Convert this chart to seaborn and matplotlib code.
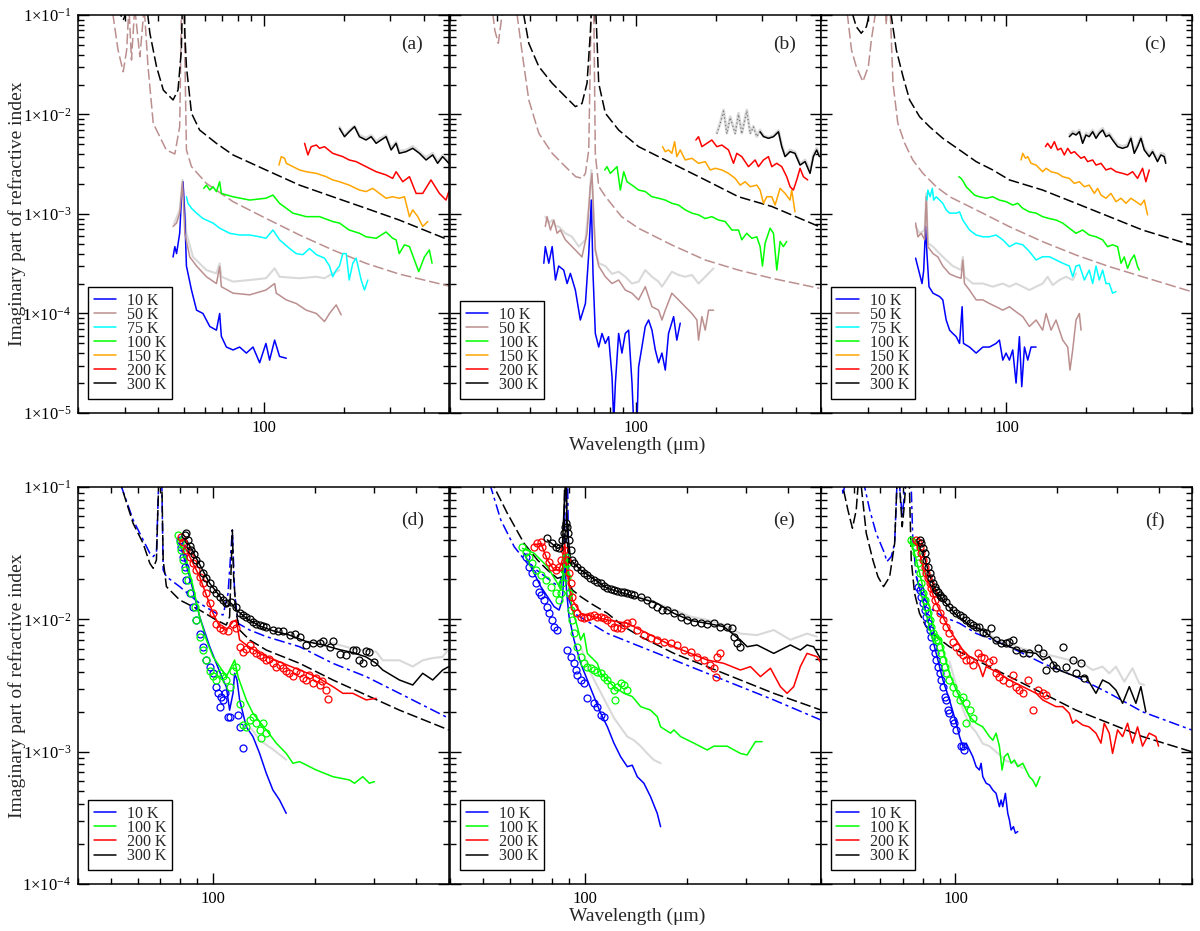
import numpy as np
import pandas as pd
import matplotlib
matplotlib.use("Agg")
import matplotlib.pyplot as plt
import seaborn as sns
from matplotlib.ticker import FixedLocator, FixedFormatter, LogLocator, NullFormatter

# ---------------- panel (a) ----------------
a_model300_wl = [28.0, 29.6, 31.0, 33.0, 36.0, 37.3, 39.5, 41.9, 45.6, 47.6, 49.0, 49.5, 50.0, 50.5, 51.2, 53.5, 57.4, 66.4, 76.7, 102, 136.5, 182, 243, 324, 498]
a_model300_k = [0.12, 0.089, 0.12, 0.3, 0.15, 0.0655, 0.0303, 0.0176, 0.0140, 0.0176, 0.0445, 0.15, 0.3, 0.0655, 0.0303, 0.0103, 0.00698, 0.00513, 0.00392, 0.00277, 0.00195, 0.00149, 0.00114, 0.00087, 0.000548]
a_model50_wl = [26.5, 28.3, 29.6, 30.5, 31.1, 31.8, 32.7, 34.2, 35.5, 36.7, 38.4, 43.0, 46.3, 48.3, 49.1, 50.1, 51.2, 53.5, 60.9, 76.7, 102, 136.5, 182, 243, 324, 498]
a_model50_k = [0.15, 0.0445, 0.0269, 0.0445, 0.12, 0.0353, 0.12, 0.0381, 0.12, 0.0303, 0.00815, 0.0044, 0.00401, 0.00755, 0.15, 0.15, 0.0044, 0.00299, 0.00203, 0.00133, 0.000904, 0.000615, 0.000435, 0.000319, 0.000249, 0.000189]
a_10K_wl = [45.6, 46.3, 47.0, 48.3, 49.0, 49.7, 50.5, 51.2, 53.5, 55.9, 59.1, 62.7, 66.4, 68.3, 69.3, 72.4, 76.7, 81.2, 86.1, 91.2, 96.6, 102, 105.3, 110, 114.8, 121.7]
a_10K_k = [3.7e-4, 4.7e-4, 4.0e-4, 6.4e-4, 1.38e-3, 2.1e-3, 9.4e-4, 3.0e-4, 1.72e-4, 1.08e-4, 1.0e-4, 7.4e-5, 6.8e-5, 1.0e-4, 5.9e-5, 4.6e-5, 4.3e-5, 4.6e-5, 4.0e-5, 4.6e-5, 3.2e-5, 5.0e-5, 3.4e-5, 5.4e-5, 3.7e-5, 3.55e-5]
a_50K_wl = [45.6, 47.0, 48.3, 49.5, 50.5, 52.7, 55.9, 60.9, 66.4, 68.3, 69.3, 76.7, 88.6, 102, 110, 111.6, 121.7, 132.7, 144.7, 158, 169.5, 177, 187.6, 195.8]
a_50K_k = [7.5e-4, 8.1e-4, 1.02e-3, 2.1e-3, 6.4e-4, 3.7e-4, 3.0e-4, 2.34e-4, 2.0e-4, 2.96e-4, 1.86e-4, 1.6e-4, 1.54e-4, 1.72e-4, 2.0e-4, 1.6e-4, 1.37e-4, 1.26e-4, 1.08e-4, 1.0e-4, 8.3e-5, 1.0e-4, 1.22e-4, 9.7e-5]
a_50Kg_wl = [46.0, 48.3, 49.5, 51.2, 54.2, 60.9, 66.4, 68.3, 69.3, 76.7, 88.6, 102, 110, 114.8, 136.5, 158, 169.5, 182, 193]
a_50Kg_k = [8.0e-4, 1.1e-3, 2.2e-3, 6.4e-4, 3.7e-4, 2.73e-4, 2.53e-4, 3.19e-4, 2.34e-4, 2.09e-4, 2.17e-4, 2.26e-4, 2.84e-4, 2.34e-4, 2.26e-4, 2.34e-4, 2.26e-4, 2.53e-4, 2.73e-4]
a_75K_wl = [51.2, 51.9, 53.5, 55.9, 59.1, 64.5, 68.3, 74.5, 81.2, 88.6, 96.6, 102, 108.4, 114.8, 125.2, 132.7, 140.5, 148.9, 158, 169.5, 177, 182, 187.6, 193, 198.7, 204.6, 210, 216.6, 223, 232.9, 239.7, 246.8]
a_75K_k = [1.49e-3, 1.28e-3, 1.14e-3, 1.02e-3, 9.0e-4, 8.1e-4, 7.2e-4, 6.4e-4, 6.15e-4, 6.15e-4, 5.9e-4, 5.7e-4, 6.9e-4, 5.5e-4, 4.5e-4, 4.0e-4, 3.9e-4, 4.5e-4, 3.9e-4, 3.6e-4, 3.0e-4, 2.34e-4, 2.73e-4, 3.0e-4, 4.0e-4, 4.0e-4, 2.17e-4, 3.2e-4, 3.6e-4, 2.17e-4, 1.72e-4, 2.17e-4]
a_100K_wl = [59.5, 60.9, 62.7, 64.5, 66.4, 68.3, 69.3, 76.7, 88.6, 102, 108.4, 114.8, 128.9, 144.7, 162.4, 182, 193, 210, 229.5, 243, 265.2, 289, 306, 315.3, 324, 339, 354, 369.6, 383.7, 403, 420.7, 430.6]
a_100K_k = [1.81e-3, 1.95e-3, 1.74e-3, 1.88e-3, 1.68e-3, 2.11e-3, 1.61e-3, 1.49e-3, 1.38e-3, 1.44e-3, 1.55e-3, 1.28e-3, 1.02e-3, 9.4e-4, 9.4e-4, 8.4e-4, 8.1e-4, 6.9e-4, 6.4e-4, 5.9e-4, 5.7e-4, 6.6e-4, 5.7e-4, 5.5e-4, 4.0e-4, 4.9e-4, 4.7e-4, 3.45e-4, 2.63e-4, 3.7e-4, 4.35e-4, 3.2e-4]
a_150K_wl = [114.2, 116.5, 119.9, 121.7, 128.9, 136.5, 144.7, 158, 172, 182, 193, 210, 229.5, 243, 257.6, 273, 289, 306, 324, 339, 354, 364.3, 380.6, 397.2, 415]
a_150K_k = [3.1e-3, 3.77e-3, 3.63e-3, 3.23e-3, 2.99e-3, 2.77e-3, 2.66e-3, 2.56e-3, 2.37e-3, 2.2e-3, 2.11e-3, 1.95e-3, 1.74e-3, 1.68e-3, 1.81e-3, 1.61e-3, 1.44e-3, 1.49e-3, 1.44e-3, 1.49e-3, 9.4e-4, 1.1e-3, 9.4e-4, 7.5e-4, 8.4e-4]
a_200K_wl = [142.6, 146.8, 151, 158, 162.4, 169.5, 182, 198.7, 210, 223, 243, 265.2, 289, 306, 315.3, 334, 354, 375, 397.2, 426.6, 459, 486, 498]
a_200K_k = [5.13e-3, 3.92e-3, 4.75e-3, 4.93e-3, 4.57e-3, 4.75e-3, 4.07e-3, 3.77e-3, 3.49e-3, 3.36e-3, 2.99e-3, 2.66e-3, 2.47e-3, 2.28e-3, 2.66e-3, 2.11e-3, 2.37e-3, 1.61e-3, 1.61e-3, 2.2e-3, 1.61e-3, 1.38e-3, 1.68e-3]
a_300K_wl = [193, 201.6, 210, 219.9, 229.5, 243, 254, 265.2, 276.8, 289, 302, 315.3, 324, 343.7, 364.3, 386, 408.9, 433, 452, 472, 498]
a_300K_k = [7.26e-3, 5.98e-3, 6.71e-3, 7.55e-3, 5.98e-3, 5.54e-3, 5.98e-3, 5.13e-3, 5.54e-3, 5.98e-3, 4.4e-3, 5.13e-3, 4.07e-3, 4.23e-3, 4.57e-3, 4.07e-3, 3.49e-3, 3.92e-3, 3.23e-3, 3.77e-3, 3.23e-3]
a_300Kg_k = [7.5e-3, 6.2e-3, 6.9e-3, 7.7e-3, 6.2e-3, 5.8e-3, 6.2e-3, 5.4e-3, 5.8e-3, 6.2e-3, 4.6e-3, 5.3e-3, 4.3e-3, 4.4e-3, 4.8e-3, 4.2e-3, 3.7e-3, 4.1e-3, 3.4e-3, 3.9e-3, 3.4e-3]

# ---------------- panel (b) ----------------
b_model50_wl = [28.5, 29.5, 30.4, 31.4, 32.0, 33.5, 35.3, 35.8, 37.4, 39.6, 43.2, 48.5, 54.4, 59.5, 63.0, 64.7, 66.6, 68.1, 69.5, 70.5, 72.6, 76.9, 88.5, 102.6, 136.9, 182.8, 243.9, 325.5, 491.7]
b_model50_k = [0.15, 0.07, 0.052, 0.1, 0.15, 0.4, 0.15, 0.1, 0.0412, 0.014, 0.00647, 0.00407, 0.00299, 0.00237, 0.00228, 0.00256, 0.0044, 0.15, 0.15, 0.004, 0.0019, 0.0015, 0.00094, 0.000718, 0.000488, 0.000345, 0.000273, 0.000226, 0.000179]
b_model300_wl = [37.3, 37.9, 39.6, 43.2, 48.5, 54.4, 59.3, 62.8, 65.6, 67.5, 68.5, 70.5, 72.6, 76.9, 86.3, 102.6, 136.9, 182.8, 243.9, 325.5, 491.7]
b_model300_k = [0.15, 0.1, 0.0519, 0.0303, 0.0206, 0.0151, 0.012, 0.0129, 0.0206, 0.0655, 0.15, 0.15, 0.0206, 0.0103, 0.00698, 0.00475, 0.00323, 0.0022, 0.00149, 0.00119, 0.000746]
b_10K_wl = [45.1, 45.7, 47.1, 48.5, 49.9, 51.3, 53.6, 55.2, 56.8, 59.3, 61.9, 64.7, 66.6, 68.1, 69.1, 70.5, 72.6, 74.7, 76.9, 79.1, 81.5, 82.7, 83.9, 86.3, 88.8, 91.4, 94.1, 96.9, 98.3, 101.2, 102.6, 105.6, 108.7, 111.9, 115.2, 118.6, 122, 125.6, 129.3, 133, 139, 142.9, 147.2]
b_10K_k = [3.2e-4, 4.7e-4, 3.2e-4, 4.7e-4, 2.17e-4, 3.0e-4, 2.73e-4, 2.0e-4, 2.53e-4, 1.72e-4, 8.6e-5, 1.26e-4, 4.0e-4, 1.38e-3, 2.53e-4, 6.3e-5, 4.6e-5, 6.3e-5, 5.0e-5, 5.85e-5, 2.3e-5, 8e-6, 2.0e-5, 6.3e-5, 4.0e-5, 6.3e-5, 6.8e-5, 2.0e-5, 8e-6, 8e-6, 2.9e-5, 4.6e-5, 7.4e-5, 8.6e-5, 6.8e-5, 4.3e-5, 3.2e-5, 4.0e-5, 2.7e-5, 6.3e-5, 9.3e-5, 5.4e-5, 8.0e-5]
b_50K_wl = [45.7, 46.4, 47.8, 49.2, 50.6, 52.1, 54.4, 57.6, 61.1, 62.8, 65.6, 67.5, 68.5, 69.5, 70.5, 72.6, 76.9, 81.5, 86.3, 91.4, 96.9, 102.6, 108.7, 115.2, 122, 125.6, 129.3, 136.9, 145.1, 153.7, 162.9, 170.1, 172.5, 177.6, 182.8, 188.2, 196.5]
b_50K_k = [7.5e-4, 9.4e-4, 6.9e-4, 8.7e-4, 6.4e-4, 6.9e-4, 5.5e-4, 4.7e-4, 4.0e-4, 3.7e-4, 6.4e-4, 1.88e-3, 2.56e-3, 9.4e-4, 4.35e-4, 3.0e-4, 2.34e-4, 2.0e-4, 2.17e-4, 1.72e-4, 1.6e-4, 1.37e-4, 1.86e-4, 1.17e-4, 1.08e-4, 8.6e-5, 1.08e-4, 1.6e-4, 1.37e-4, 1.17e-4, 1.0e-4, 8.6e-5, 5.4e-5, 9.3e-5, 6.8e-5, 1.08e-4, 1.08e-4]
b_50Kg_wl = [45.7, 47.1, 48.5, 49.9, 51.3, 54.4, 57.6, 61.1, 64.7, 67.0, 68.1, 69.1, 70.5, 72.6, 76.9, 81.5, 86.3, 91.4, 96.9, 102.6, 108.7, 115.2, 122, 125.6, 133, 136.9, 145.1, 153.7, 162.9, 172.5, 182.8, 196.5]
b_50Kg_k = [9.4e-4, 8.1e-4, 8.7e-4, 7.5e-4, 7.5e-4, 6.4e-4, 5.9e-4, 4.7e-4, 5.5e-4, 1.38e-3, 2.77e-3, 1.38e-3, 4.35e-4, 3.2e-4, 3.0e-4, 2.5e-4, 2.63e-4, 2.34e-4, 2.0e-4, 2.09e-4, 2.73e-4, 2.34e-4, 2.09e-4, 1.86e-4, 2.34e-4, 2.63e-4, 2.44e-4, 2.34e-4, 2.44e-4, 2.0e-4, 2.34e-4, 2.84e-4]
b_100K_wl = [76.5, 78, 80.3, 82.7, 85.1, 87.6, 90.2, 92.8, 96.9, 102.6, 108.7, 115.2, 122, 129.3, 136.9, 145.1, 153.7, 162.9, 172.5, 182.8, 193.6, 205, 217.4, 230.3, 243.9, 251, 262.1, 273.7, 285.8, 294.2, 300.3, 307.3, 320.9, 330.3, 340, 349.9, 360, 370.5]
b_100K_k = [2.77e-3, 2.99e-3, 2.56e-3, 2.77e-3, 2.99e-3, 1.74e-3, 2.66e-3, 2.11e-3, 1.95e-3, 1.74e-3, 1.68e-3, 1.49e-3, 1.44e-3, 1.38e-3, 1.28e-3, 1.23e-3, 1.1e-3, 1.02e-3, 9.8e-4, 9.0e-4, 9.4e-4, 8.7e-4, 8.4e-4, 6.9e-4, 6.9e-4, 5.5e-4, 6.4e-4, 5.7e-4, 5.9e-4, 4.7e-4, 3.0e-4, 5.1e-4, 7.2e-4, 6.4e-4, 2.73e-4, 5.3e-4, 4.7e-4, 5.3e-4]
b_150K_wl = [126.3, 129.3, 133, 136.9, 140.2, 142.9, 147.2, 153.7, 162.9, 172.5, 182.8, 190.9, 199.3, 211.2, 223.7, 237, 247.5, 258.5, 270, 285.8, 294.2, 302.9, 311.7, 325.5, 335, 349.9, 365.3, 381.5, 387, 398]
b_150K_k = [4.75e-3, 4.23e-3, 4.4e-3, 4.07e-3, 5.33e-3, 3.77e-3, 4.4e-3, 3.49e-3, 3.63e-3, 3.23e-3, 3.36e-3, 2.77e-3, 2.88e-3, 2.77e-3, 2.56e-3, 2.28e-3, 1.95e-3, 2.11e-3, 1.88e-3, 1.95e-3, 1.74e-3, 1.28e-3, 1.49e-3, 1.49e-3, 1.23e-3, 1.81e-3, 1.61e-3, 1.38e-3, 1.74e-3, 1.05e-3]
b_200K_wl = [168.6, 172.5, 177.6, 185.4, 193.6, 202.2, 211.2, 223.7, 233.6, 240.4, 251, 266, 281.8, 290, 302.9, 316.2, 325.5, 340, 355, 370.5, 381.5, 392.6, 404.2, 416, 428.2, 444.5]
b_200K_k = [5.54e-3, 5.98e-3, 4.75e-3, 5.13e-3, 5.54e-3, 4.75e-3, 4.93e-3, 4.4e-3, 3.23e-3, 4.07e-3, 3.77e-3, 2.99e-3, 3.49e-3, 2.99e-3, 3.49e-3, 3.77e-3, 2.99e-3, 3.23e-3, 2.99e-3, 2.37e-3, 1.88e-3, 1.74e-3, 2.2e-3, 2.88e-3, 2.37e-3, 2.2e-3]
b_300Kg_wl = [202.2, 208, 214.3, 220.5, 227, 237, 243.9, 251, 262.1, 270, 277.7, 285.8, 294.2, 302.9, 316.2, 330.3, 344.9, 355, 365.3, 381.5, 398, 416, 434.5, 453.6, 466.7, 480.5, 491.7]
b_300Kg_k = [6.5e-3, 8.2e-3, 1.11e-2, 6.5e-3, 9.5e-3, 6.5e-3, 1.03e-2, 6.5e-3, 1.11e-2, 6.5e-3, 7.6e-3, 6.0e-3, 7.0e-3, 6.1e-3, 5.9e-3, 6.1e-3, 6.9e-3, 4.9e-3, 3.9e-3, 4.4e-3, 4.2e-3, 3.2e-3, 3.5e-3, 2.7e-3, 3.9e-3, 4.6e-3, 4.0e-3]
b_300Kd_wl = [202.2, 208, 214.3, 220.5, 227, 237, 243.9, 251, 262.1, 270, 277.7, 285.8, 294.2]
b_300Kd_k = [6.4e-3, 8.0e-3, 1.08e-2, 6.4e-3, 9.3e-3, 6.4e-3, 1.0e-2, 6.4e-3, 1.08e-2, 6.4e-3, 7.5e-3, 6.0e-3, 6.7e-3]
b_300K_wl = [294.2, 302.9, 316.2, 330.3, 344.9, 355, 365.3, 381.5, 398, 416, 434.5, 453.6, 466.7, 480.5, 491.7]
b_300K_k = [6.7e-3, 6.0e-3, 5.76e-3, 5.98e-3, 6.7e-3, 4.75e-3, 3.77e-3, 4.23e-3, 4.07e-3, 3.1e-3, 3.36e-3, 2.56e-3, 3.77e-3, 4.4e-3, 3.77e-3]

# ---------------- panel (c) ----------------
c_model300_wl = [25.5, 26.4, 27.2, 28.4, 29.7, 30.4, 31.0, 36.2, 36.8, 38.5, 40.8, 43.2, 47.1, 51.3, 57.6, 66.6, 76.9, 88.8, 102.6, 136.9, 182.8, 243.9, 325.5, 497]
c_model300_k = [0.2, 0.1, 0.0763, 0.0655, 0.0763, 0.1, 0.2, 0.3, 0.1, 0.0445, 0.024, 0.014, 0.0095, 0.00755, 0.00576, 0.0044, 0.00336, 0.00277, 0.0022, 0.00174, 0.00128, 0.00094, 0.00069, 0.000488]
c_model50_wl = [24.5, 25.2, 26.1, 27.2, 28.8, 30.2, 31.0, 32.8, 34.5, 35.3, 36.0, 37.4, 39.0, 41.4, 44.4, 48.5, 54.4, 61.1, 76.9, 102.6, 136.9, 182.8, 243.9, 325.5, 497]
c_model50_k = [0.2, 0.1, 0.0445, 0.0303, 0.0214, 0.0303, 0.0561, 0.15, 0.3, 0.08, 0.3, 0.0206, 0.00815, 0.00513, 0.00349, 0.00256, 0.00188, 0.00149, 0.0011, 0.000746, 0.000527, 0.000387, 0.000296, 0.000234, 0.000166]
c_10K_wl = [45.5, 46.0, 47.1, 48.1, 48.8, 49.6, 50.2, 51.1, 52.9, 54.4, 56.0, 57.6, 59.3, 61.1, 62.8, 64.7, 66.6, 68.1, 68.9, 72.6, 76.9, 81.5, 86.3, 91.4, 94.1, 96.9, 99.7, 102.6, 105.6, 108.7, 111.9, 114.2, 116.9, 120.3, 123.8, 129.3]
c_10K_k = [3.6e-4, 3.2e-4, 2.5e-4, 2.0e-4, 2.7e-4, 7.5e-4, 4.0e-4, 1.86e-4, 1.6e-4, 1.54e-4, 1.48e-4, 1.37e-4, 8.6e-5, 6.8e-5, 6.3e-5, 5.85e-5, 5.0e-5, 1.17e-4, 5.0e-5, 4.6e-5, 4.0e-5, 4.6e-5, 4.6e-5, 5.0e-5, 5.4e-5, 3.4e-5, 4.0e-5, 3.4e-5, 4.3e-5, 2.0e-5, 5.85e-5, 1.84e-5, 4.6e-5, 3.4e-5, 4.6e-5, 4.6e-5]
c_50K_wl = [45.5, 46.4, 47.8, 49.2, 49.9, 50.6, 52.9, 55.2, 57.6, 61.1, 64.7, 67.5, 68.5, 69.5, 72.6, 76.9, 81.5, 86.3, 91.4, 96.9, 102.6, 108.7, 115.2, 122, 129.3, 136.9, 141, 147.2, 153.7, 162.9, 170.1, 173.5, 177.6, 182.8, 188.2, 190.9]
c_50K_k = [8.1e-4, 5.9e-4, 6.4e-4, 5.5e-4, 1.49e-3, 4.7e-4, 4.0e-4, 3.7e-4, 3.0e-4, 2.5e-4, 2.34e-4, 2.26e-4, 3.45e-4, 2.0e-4, 1.72e-4, 1.37e-4, 1.37e-4, 1.26e-4, 1.17e-4, 1.08e-4, 1.17e-4, 1.04e-4, 9.3e-5, 7.4e-5, 8.6e-5, 6.8e-5, 1.0e-4, 6.8e-5, 8.6e-5, 5.4e-5, 4.6e-5, 2.7e-5, 4.3e-5, 8.6e-5, 1.0e-4, 6.8e-5]
c_50Kg_wl = [45.5, 47.1, 49.2, 49.9, 50.6, 52.9, 56.0, 59.3, 62.8, 67.5, 68.5, 69.5, 74.7, 81.5, 88.8, 96.9, 102.6, 108.7, 115.2, 122, 129.3, 136.9, 142.9, 149.4, 158.2, 167.6, 177.6, 182.8]
c_50Kg_k = [7.5e-4, 6.4e-4, 6.9e-4, 1.61e-3, 5.1e-4, 4.7e-4, 4.0e-4, 3.45e-4, 3.0e-4, 2.73e-4, 3.72e-4, 2.34e-4, 2.0e-4, 2.0e-4, 1.86e-4, 2.0e-4, 1.86e-4, 2.0e-4, 1.86e-4, 1.72e-4, 1.86e-4, 2.0e-4, 2.34e-4, 1.93e-4, 2.17e-4, 2.34e-4, 2.17e-4, 2.53e-4]
c_75K_wl = [50.2, 50.6, 51.6, 52.6, 53.2, 54.4, 56.0, 57.6, 59.3, 61.1, 64.7, 66.6, 68.5, 72.6, 76.9, 81.5, 86.3, 91.4, 96.9, 102.6, 108.7, 115.2, 122, 129.3, 136.9, 145.1, 153.7, 162.9, 172.5, 177.6, 182.8, 188.2, 196.5, 205, 211.2, 217.4, 223.7, 230.3, 237, 243.9, 251, 258.5]
c_75K_k = [1.38e-3, 1.74e-3, 1.49e-3, 1.81e-3, 1.38e-3, 1.49e-3, 1.38e-3, 1.28e-3, 1.1e-3, 1.02e-3, 1.02e-3, 1.05e-3, 8.7e-4, 6.9e-4, 6.15e-4, 5.9e-4, 5.9e-4, 6.15e-4, 5.5e-4, 4.7e-4, 5.1e-4, 4.9e-4, 4.2e-4, 3.45e-4, 3.72e-4, 3.72e-4, 3.45e-4, 3.2e-4, 3.0e-4, 2.34e-4, 3.0e-4, 3.07e-4, 2.17e-4, 2.73e-4, 2.0e-4, 3.0e-4, 2.17e-4, 2.73e-4, 2.0e-4, 2.0e-4, 1.6e-4, 1.66e-4]
c_100K_wl = [66.2, 67.5, 68.9, 70.5, 72.6, 75.8, 79.1, 83.9, 88.8, 94.1, 99.7, 105.6, 110.3, 115.2, 122, 129.3, 136.9, 145.1, 153.7, 162.9, 172.5, 182.8, 193.6, 205, 217.4, 230.3, 240.4, 251, 262.1, 270, 277.7, 285.8, 294.2, 302.9, 311.7, 316.2]
c_100K_k = [2.37e-3, 2.28e-3, 2.11e-3, 1.88e-3, 1.74e-3, 1.55e-3, 1.49e-3, 1.44e-3, 1.49e-3, 1.38e-3, 1.33e-3, 1.23e-3, 1.28e-3, 1.14e-3, 1.05e-3, 1.02e-3, 9.4e-4, 9.0e-4, 8.7e-4, 8.1e-4, 7.2e-4, 6.4e-4, 6.9e-4, 6.15e-4, 5.9e-4, 5.5e-4, 4.7e-4, 4.9e-4, 4.7e-4, 3.2e-4, 3.7e-4, 2.84e-4, 3.45e-4, 3.87e-4, 2.96e-4, 2.73e-4]
c_150K_wl = [113.5, 115.2, 117.9, 120.3, 123.8, 129.3, 136.9, 141, 147.2, 155.9, 162.9, 172.5, 180.2, 188.2, 196.5, 205, 214.3, 220.5, 227, 237, 247.5, 258.5, 270, 281.8, 294.2, 307.3, 320.9, 330.3, 340]
c_150K_k = [3.49e-3, 4.07e-3, 3.63e-3, 3.77e-3, 3.23e-3, 3.1e-3, 2.66e-3, 2.88e-3, 2.66e-3, 2.56e-3, 2.37e-3, 2.28e-3, 2.03e-3, 2.11e-3, 1.88e-3, 1.95e-3, 1.61e-3, 1.81e-3, 1.55e-3, 1.44e-3, 1.61e-3, 1.33e-3, 1.44e-3, 1.28e-3, 1.44e-3, 1.33e-3, 1.23e-3, 1.38e-3, 9.8e-4]
c_200K_wl = [140.2, 142.9, 147.2, 151.5, 155.9, 160.5, 165.2, 170.1, 175, 180.2, 185.4, 190.9, 196.5, 202.2, 211.2, 217.4, 227, 237, 247.5, 258.5, 273.7, 285.8, 298.5, 311.7, 325.5, 335, 344.9]
c_200K_k = [4.75e-3, 5.13e-3, 4.57e-3, 5.33e-3, 4.4e-3, 4.57e-3, 3.92e-3, 4.57e-3, 4.07e-3, 4.23e-3, 3.92e-3, 3.63e-3, 3.77e-3, 3.36e-3, 3.49e-3, 3.1e-3, 3.23e-3, 2.77e-3, 2.88e-3, 2.66e-3, 2.56e-3, 2.47e-3, 2.66e-3, 2.28e-3, 2.88e-3, 2.11e-3, 2.77e-3]
c_300K_wl = [172.5, 177.6, 182.8, 188.2, 193.6, 199.3, 205, 211.2, 217.4, 223.7, 230.3, 237, 243.9, 251, 262.1, 273.7, 285.8, 294.2, 302.9, 311.7, 320.9, 330.3, 344.9, 355, 370.5, 381.5, 392.6, 398]
c_300K_k = [5.98e-3, 6.47e-3, 6.22e-3, 6.71e-3, 5.13e-3, 6.22e-3, 5.98e-3, 6.71e-3, 5.76e-3, 6.47e-3, 6.98e-3, 5.98e-3, 6.22e-3, 5.54e-3, 4.75e-3, 4.57e-3, 4.75e-3, 5.76e-3, 4.07e-3, 4.75e-3, 5.76e-3, 4.4e-3, 3.77e-3, 4.23e-3, 3.36e-3, 3.92e-3, 3.77e-3, 3.23e-3]
c_300Kg_k = [6.3e-3, 6.8e-3, 6.5e-3, 7.0e-3, 5.4e-3, 6.5e-3, 6.3e-3, 7.0e-3, 6.0e-3, 6.8e-3, 7.3e-3, 6.3e-3, 6.5e-3, 5.8e-3, 5.0e-3, 4.8e-3, 5.0e-3, 6.0e-3, 4.3e-3, 5.0e-3, 6.0e-3, 4.6e-3, 4.0e-3, 4.4e-3, 3.5e-3, 4.1e-3, 4.0e-3, 3.4e-3]

# ---------------- panel (d) ----------------
d_model300_wl = [52, 53.8, 58.2, 62.3, 65.2, 66.7, 68.2, 69.5, 70.6, 71.4, 73, 79.9, 91.5, 102.5, 109.7, 112.2, 114.3, 115.3, 117.4, 120.1, 128.6, 144, 180.6, 226.5, 284, 356.2, 498]
d_model300_k = [0.15, 0.1, 0.0531, 0.0375, 0.0265, 0.0243, 0.0281, 0.15, 0.15, 0.0281, 0.01766, 0.014, 0.01175, 0.00988, 0.00906, 0.01047, 0.0473, 0.021, 0.0111, 0.0083, 0.00698, 0.00586, 0.00465, 0.00348, 0.00268, 0.00206, 0.00146]
d_model10_wl = [52, 53.8, 58.2, 62.3, 65.2, 66.7, 68.2, 69.5, 70.6, 71.4, 73, 79.9, 91.5, 102.5, 107.3, 111, 114.3, 116.1, 118.8, 128.6, 144, 180.6, 226.5, 284, 356.2, 498]
d_model10_k = [0.15, 0.1, 0.0564, 0.0398, 0.0316, 0.0298, 0.0316, 0.15, 0.15, 0.0236, 0.021, 0.01766, 0.0132, 0.0111, 0.0108, 0.0157, 0.0473, 0.0157, 0.00933, 0.0083, 0.0074, 0.00621, 0.00465, 0.00369, 0.00276, 0.00179]
d_300Ko_wl = [82.7, 83.6, 84.6, 85.5, 86.5, 88, 89.5, 91.5, 93.7, 95.8, 98, 100.2, 102.5, 104.9, 107.3, 109.7, 113.5, 117.4, 120.1, 123, 125.7, 128.6, 131.5, 134.5, 137.6, 140.8, 144, 150.6, 155.8, 161.3, 168.7, 174.5, 180.6, 189, 197.7, 206.9, 211.6, 221.4, 226.5, 237, 247.9, 259.4, 265.3, 271.4, 277.6, 284, 290.4, 300.6]
d_300Ko_k = [0.0434, 0.0447, 0.0398, 0.036, 0.0334, 0.031, 0.0281, 0.026, 0.0223, 0.0205, 0.0187, 0.017, 0.0157, 0.0148, 0.014, 0.0132, 0.0136, 0.0125, 0.0111, 0.0108, 0.0105, 0.0100, 0.0096, 0.0093, 0.0091, 0.0089, 0.0088, 0.0083, 0.0082, 0.0081, 0.0076, 0.0078, 0.0074, 0.0064, 0.0066, 0.0066, 0.0068, 0.0062, 0.0068, 0.0055, 0.0054, 0.0059, 0.0059, 0.0049, 0.0047, 0.0058, 0.0057, 0.0048]
d_300K_wl = [83.6, 86.5, 91.5, 98, 104.9, 109.7, 113.5, 117.4, 125.7, 137.6, 150.6, 168.7, 189, 211.6, 237, 259.4, 284, 304, 318, 356.2, 390, 417.3, 446.7, 478, 498]
d_300K_k = [0.0398, 0.034, 0.026, 0.0187, 0.015, 0.0125, 0.0132, 0.0118, 0.0102, 0.0089, 0.0082, 0.0076, 0.0068, 0.0064, 0.0059, 0.0056, 0.0052, 0.00465, 0.00414, 0.00348, 0.00319, 0.00391, 0.00348, 0.00414, 0.00439]
d_300Kg_wl = [189, 226.5, 259.4, 284, 304, 318, 356.2, 390, 417.3, 446.7, 478, 498]
d_300Kg_k = [0.0068, 0.0066, 0.0060, 0.0058, 0.0057, 0.0049, 0.0049, 0.0044, 0.0049, 0.0051, 0.0052, 0.0060]
d_lowg_wl = [130, 137.6, 150, 164.9]
d_lowg_k = [0.0015, 0.00122, 0.00105, 0.00087]
d_200Ko_wl = [80.8, 81.8, 83.6, 85.5, 87.5, 89.5, 91.5, 93.7, 95.8, 98, 100.2, 102.5, 104.9, 107.3, 111, 114.8, 117.4, 120.1, 122.9, 125.7, 128.6, 131.5, 134.5, 137.6, 141, 144, 147, 150.6, 154, 157.6, 161, 164.9, 168.5, 172.6, 176.5, 180.6, 185, 189, 193, 197.7, 202, 206.9, 211, 216.4, 218.9]
d_200Ko_k = [0.0422, 0.0387, 0.0334, 0.0298, 0.0265, 0.0236, 0.021, 0.0187, 0.0157, 0.0132, 0.0111, 0.0093, 0.0086, 0.0083, 0.0081, 0.0093, 0.0086, 0.0062, 0.0057, 0.006, 0.0064, 0.0059, 0.0056, 0.0054, 0.0052, 0.0049, 0.005, 0.0047, 0.0044, 0.0045, 0.0043, 0.0041, 0.0039, 0.0037, 0.0041, 0.0039, 0.0036, 0.0035, 0.0038, 0.0033, 0.0036, 0.0032, 0.0034, 0.0029, 0.0025]
d_200K_wl = [80.8, 91.5, 100.2, 104.9, 109.7, 114.8, 117.4, 120.1, 125.7, 137.6, 161.3, 180.6, 202.2, 226.5, 242.4, 259.4, 284, 304]
d_200K_k = [0.0398, 0.021, 0.0111, 0.0088, 0.0083, 0.0096, 0.00988, 0.0070, 0.0064, 0.00553, 0.00465, 0.00414, 0.00369, 0.0031, 0.00276, 0.00276, 0.00246, 0.00253]
d_100Ko_wl = [79, 79.9, 80.8, 81.8, 82.7, 84.6, 86.5, 88.5, 89.5, 91.5, 93.7, 95.8, 98, 100.2, 102.5, 104.9, 107.3, 109.7, 112.2, 114.8, 117.4, 120.1, 122.9, 125.7, 128.6, 131.5, 134.5, 137.6, 139.2, 140.8, 144]
d_100Ko_k = [0.0434, 0.0387, 0.0334, 0.0281, 0.0236, 0.0198, 0.0157, 0.0125, 0.0099, 0.0074, 0.0059, 0.0049, 0.0041, 0.0037, 0.0035, 0.0039, 0.0037, 0.0035, 0.0031, 0.0041, 0.0044, 0.0023, 0.0016, 0.00154, 0.00173, 0.00184, 0.00164, 0.00146, 0.00126, 0.00164, 0.00138]
d_100K_wl = [79, 83.6, 87.5, 91.5, 95.8, 100.2, 104.9, 109.7, 113.5, 116.1, 118.8, 125.7, 131.5, 144, 154.1, 164.9, 172.6, 180.6, 202.2, 226.5, 253.6, 262.3, 277.6, 290.4, 300.6]
d_100K_k = [0.041, 0.0281, 0.01766, 0.01047, 0.00698, 0.00522, 0.00439, 0.00369, 0.00439, 0.00493, 0.00369, 0.00246, 0.00195, 0.00146, 0.00116, 0.00097, 0.000817, 0.00084, 0.000727, 0.000647, 0.000611, 0.000577, 0.000647, 0.000577, 0.000594]
d_10Ko_wl = [79.9, 80.8, 81.8, 82.7, 83.6, 85.5, 87.5, 89.5, 91.5, 93.7, 95.8, 98, 100.2, 102.5, 103.7, 104.9, 106.1, 107.3, 108.5, 111, 112.2, 118.8, 120.1, 122.9]
d_10Ko_k = [0.0398, 0.0354, 0.0298, 0.025, 0.0198, 0.0157, 0.0125, 0.0099, 0.0078, 0.0062, 0.0049, 0.0044, 0.0039, 0.0031, 0.00276, 0.00219, 0.00261, 0.00246, 0.00276, 0.00184, 0.00184, 0.00189, 0.00154, 0.00106]
d_10K_wl = [79.9, 85.5, 91.5, 98, 102.5, 107.3, 109.7, 112.2, 114.8, 116.1, 118, 120.1, 125.7, 131.5, 137.6, 144, 150.6, 157.6, 164.9]
d_10K_k = [0.0375, 0.021, 0.01047, 0.00621, 0.00465, 0.00348, 0.0031, 0.00206, 0.00276, 0.00391, 0.00348, 0.00246, 0.00154, 0.0013, 0.00097, 0.000686, 0.000513, 0.000431, 0.000342]

# ---------------- panel (e) ----------------
e_model300_wl = [52, 54, 59.1, 66.2, 72.5, 77.6, 83.1, 85.9, 86.9, 87.3, 87.9, 88.9, 89.9, 92, 97.3, 104.2, 116.7, 130.6, 146.3, 183.5, 230, 288.4, 361.8, 500]
e_model300_k = [0.15, 0.1, 0.0632, 0.0375, 0.0281, 0.0236, 0.0204, 0.021, 0.04, 0.15, 0.15, 0.04, 0.0187, 0.01667, 0.01484, 0.0132, 0.0111, 0.0088, 0.0074, 0.00553, 0.00439, 0.00348, 0.00276, 0.00206]
e_model10_wl = [50, 52.8, 56.5, 61.9, 67.7, 74.2, 81.2, 84, 86.9, 87.9, 88.9, 89.9, 93, 104.2, 116.7, 146.3, 183.5, 230, 288.4, 361.8, 500]
e_model10_k = [0.15, 0.1, 0.0564, 0.0354, 0.0265, 0.0223, 0.0187, 0.01766, 0.025, 0.15, 0.15, 0.014, 0.0111, 0.00933, 0.00783, 0.00621, 0.00493, 0.00391, 0.0031, 0.00246, 0.00173]
e_300Ko_wl = [77.6, 80.3, 82.1, 84, 85.9, 86.9, 87.3, 88, 88.5, 89.2, 89.9, 90.9, 92, 93, 95, 97.3, 99.5, 101.8, 104, 106.5, 109, 111.5, 114, 116.7, 119.3, 122, 124.8, 127.7, 130.6, 133.6, 136.7, 139.8, 146.3, 153, 158, 163.8, 169.5, 175.4, 183.5, 192, 200.9, 210.2, 219.9, 230, 240.7, 251.8, 263.5, 272.6, 275.7, 282.1, 288.4]
e_300Ko_k = [0.041, 0.0375, 0.0354, 0.0344, 0.0398, 0.045, 0.0501, 0.0531, 0.05, 0.045, 0.0398, 0.0334, 0.0281, 0.0265, 0.025, 0.0236, 0.0225, 0.0216, 0.0205, 0.0198, 0.0192, 0.0187, 0.018, 0.01714, 0.0169, 0.01667, 0.0164, 0.0162, 0.016, 0.0157, 0.0155, 0.01527, 0.01484, 0.014, 0.013, 0.01248, 0.0118, 0.01175, 0.0111, 0.0105, 0.00988, 0.0096, 0.00933, 0.0092, 0.00933, 0.0088, 0.0088, 0.00855, 0.0074, 0.00659, 0.00621]
e_300K_wl = [77.6, 83.1, 85.9, 87.3, 88.2, 88.6, 90.9, 97.3, 116.7, 146.3, 163.8, 183.5, 205.4, 230, 257.6, 288.4, 302, 323, 361.8, 405.2, 433.6, 453.8, 474.8, 500]
e_300K_k = [0.0398, 0.0344, 0.0354, 0.09, 0.12, 0.0501, 0.0281, 0.0236, 0.01714, 0.01442, 0.0132, 0.0111, 0.0098, 0.00933, 0.0088, 0.00698, 0.00621, 0.0064, 0.00553, 0.0064, 0.00586, 0.0064, 0.0062, 0.00493]
e_300Kg_wl = [146.3, 163.8, 183.5, 205.4, 230, 257.6, 288.4, 323, 361.8, 405.2, 453.8, 485]
e_300Kg_k = [0.0148, 0.0132, 0.0118, 0.0105, 0.0099, 0.0091, 0.0078, 0.0076, 0.0083, 0.0070, 0.0078, 0.0074]
e_200Ko_wl = [70.9, 72.5, 74.2, 75, 76.7, 78.5, 80.3, 82.1, 84, 85.3, 86.9, 88.5, 89.9, 90.9, 92, 93, 95.1, 97.3, 99.5, 101.8, 104, 106.5, 109, 111.5, 114, 116.7, 119.3, 122, 124.8, 127.7, 130.6, 133.6, 138.2, 143, 149.6, 156.5, 163.8, 171.4, 179.3, 187.7, 196.3, 205.4, 214.9, 224.9, 235.3, 240.7, 243.5, 246.2, 251.8]
e_200Ko_k = [0.0354, 0.0375, 0.0387, 0.0354, 0.0306, 0.0273, 0.025, 0.0236, 0.025, 0.0281, 0.0334, 0.0281, 0.0223, 0.0187, 0.01484, 0.01248, 0.0111, 0.01047, 0.0103, 0.01047, 0.0106, 0.0108, 0.0105, 0.01047, 0.0102, 0.00988, 0.0094, 0.0088, 0.0086, 0.00855, 0.0091, 0.00933, 0.0096, 0.0083, 0.0076, 0.00719, 0.00698, 0.00678, 0.00659, 0.0064, 0.00586, 0.0057, 0.00522, 0.00493, 0.00452, 0.00427, 0.00369, 0.00522, 0.00553]
e_200K_wl = [70.9, 74.2, 77.6, 81.2, 84, 85.9, 87.3, 88.5, 89.9, 92, 97.3, 116.7, 133.6, 146.3, 183.5, 230, 257.6, 288.4, 308.9, 330.5, 353.8, 378.6, 396.2, 414.5, 433.6, 453.8, 485.7, 500]
e_200K_k = [0.0365, 0.0375, 0.0281, 0.0236, 0.0236, 0.0281, 0.0375, 0.0236, 0.0187, 0.014, 0.0111, 0.00988, 0.00933, 0.0083, 0.00621, 0.00493, 0.00465, 0.00414, 0.00439, 0.00369, 0.00427, 0.0031, 0.00276, 0.0031, 0.00439, 0.00553, 0.00522, 0.00465]
e_100Ko_wl = [65.5, 67, 68.5, 70.1, 71.7, 74.2, 76.7, 79.4, 82.1, 84, 85, 85.9, 86.9, 87.9, 88.5, 88.9, 89.9, 90.9, 92, 93, 95.1, 97.3, 99.5, 101.8, 104.2, 106.5, 109, 111.5, 114, 116.7, 119.3, 122, 122.5, 124.8, 127.7, 130.6, 133.6]
e_100Ko_k = [0.0354, 0.0324, 0.0298, 0.0265, 0.0236, 0.0216, 0.0198, 0.01766, 0.0157, 0.014, 0.0157, 0.0187, 0.0236, 0.0298, 0.0265, 0.021, 0.0157, 0.01175, 0.00988, 0.00783, 0.00621, 0.00522, 0.00465, 0.00439, 0.00427, 0.00414, 0.00403, 0.00391, 0.00369, 0.00348, 0.00319, 0.00292, 0.00246, 0.0031, 0.00328, 0.00319, 0.00292]
e_100K_wl = [65.5, 70.9, 77.6, 83.1, 85, 86.9, 87.9, 88.9, 89.9, 92, 95.1, 97.3, 99.5, 101.8, 106.5, 109, 111.5, 116.7, 122, 130.6, 138.2, 146.3, 156.5, 163.8, 167.6, 179.3, 183.5, 192, 210.2, 230, 240.7, 263.5, 288.4, 301.8, 319.5, 334.3]
e_100K_k = [0.0344, 0.0316, 0.025, 0.0187, 0.01667, 0.0265, 0.0316, 0.0281, 0.01766, 0.01175, 0.0088, 0.00698, 0.00783, 0.00553, 0.00493, 0.00465, 0.00391, 0.00348, 0.0031, 0.00276, 0.00261, 0.00219, 0.00206, 0.00184, 0.00154, 0.00138, 0.00146, 0.0013, 0.00116, 0.00103, 0.0011, 0.0011, 0.00097, 0.000944, 0.00119, 0.00119]
e_10Ko_wl = [67, 68.5, 70.1, 71.7, 73.3, 74.2, 75.9, 77.6, 78.5, 80.3, 81.2, 83.1, 88.9, 90.9, 93, 94.1, 95.1, 97.3, 99.5, 101.8, 106.5, 109, 111.5, 114]
e_10Ko_k = [0.0298, 0.025, 0.0223, 0.0187, 0.0162, 0.01527, 0.014, 0.01248, 0.0111, 0.00988, 0.0088, 0.0083, 0.00586, 0.00522, 0.00465, 0.00414, 0.0038, 0.00348, 0.00328, 0.00253, 0.00232, 0.00219, 0.00189, 0.00184]
e_10K_wl = [66.2, 74.2, 81.2, 84, 85.9, 87.3, 88.5, 89.9, 93, 97.3, 101.8, 106.5, 111.5, 116.7, 122, 127.7, 133.6, 138.2, 143, 149.6, 156.5, 163.8, 167.6]
e_10K_k = [0.0316, 0.01766, 0.01248, 0.01175, 0.014, 0.0281, 0.0157, 0.01047, 0.00698, 0.00465, 0.00348, 0.00261, 0.00195, 0.00154, 0.00116, 0.000916, 0.00077, 0.00079, 0.000647, 0.000577, 0.000457, 0.000342, 0.000271]
e_lowg_wl = [97.3, 104.2, 111.5, 122, 133.6, 139.8, 146.3, 153, 160.1, 167.6]
e_lowg_k = [0.0062, 0.0039, 0.0028, 0.0018, 0.0013, 0.00122, 0.0011, 0.00097, 0.000865, 0.000817]

# ---------------- panel (f) ----------------
f_model300_wl = [45.5, 46.5, 48.1, 49.6, 50.9, 51.5, 52.1, 52.7, 54.5, 57, 59, 61.3, 63.9, 66.1, 67.1, 67.8, 68.4, 69.6, 70.4, 71.2, 72.2, 73.1, 74, 75.7, 78.3, 81.9, 87.7, 96, 115.1, 144.3, 181, 227, 284.6, 356.9, 498]
f_model300_k = [0.2, 0.1, 0.067, 0.0488, 0.067, 0.1, 0.2, 0.1, 0.0447, 0.0281, 0.021, 0.01766, 0.021, 0.0375, 0.1, 0.2, 0.1, 0.0501, 0.067, 0.1, 0.2, 0.1, 0.0281, 0.0157, 0.0111, 0.0088, 0.0074, 0.00621, 0.00493, 0.00369, 0.00276, 0.00206, 0.00164, 0.0013, 0.001]
f_model10_wl = [45, 46.5, 47.5, 48.5, 53.9, 55.8, 58.3, 61.7, 62.7, 64.6, 66.1, 67.1, 67.8, 68.4, 69.6, 70.4, 71.2, 72.5, 74, 74.8, 76.6, 80.1, 85.7, 91.8, 102.8, 115.1, 144.3, 181, 227, 284.6, 356.9, 498]
f_model10_k = [0.2, 0.09, 0.11, 0.2, 0.1, 0.067, 0.0447, 0.0316, 0.0273, 0.0298, 0.0375, 0.1, 0.2, 0.1, 0.06, 0.08, 0.15, 0.2, 0.1, 0.04, 0.021, 0.01484, 0.01175, 0.01047, 0.00933, 0.00783, 0.00621, 0.00465, 0.00369, 0.00276, 0.002, 0.00146]
f_300Ko_wl = [78.3, 79.2, 80.1, 81, 81.9, 82.9, 83.8, 84.8, 85.7, 86.7, 87.7, 88.7, 89.7, 90.8, 91.8, 93.9, 96, 98.2, 100.5, 102.8, 105.1, 107.5, 110, 112.5, 115.1, 117.7, 120.4, 123.2, 127.4, 131.8, 136.4, 141.1, 144.3, 147.6, 151, 158, 165.3, 174.9, 181, 185.2, 193.7, 198.1, 207.3, 212.1, 221.9, 227, 234.8, 240.2]
f_300Ko_k = [0.0398, 0.0375, 0.0344, 0.0316, 0.0281, 0.025, 0.0223, 0.0204, 0.0187, 0.0177, 0.01667, 0.016, 0.01527, 0.0148, 0.01442, 0.0136, 0.01248, 0.01175, 0.0111, 0.0108, 0.01047, 0.00988, 0.00933, 0.00906, 0.0088, 0.0088, 0.00807, 0.00783, 0.00855, 0.00698, 0.00659, 0.00659, 0.00678, 0.00698, 0.00586, 0.00553, 0.00553, 0.00604, 0.00553, 0.00414, 0.00452, 0.00427, 0.00621, 0.00439, 0.00493, 0.00391, 0.00465, 0.00358]
f_300K_wl = [77.4, 80.1, 83.8, 87.7, 91.8, 100.5, 110, 120.4, 131.8, 144.3, 158, 173, 181, 189.4, 198.1, 207.3, 227, 242.9, 260, 272, 284.6, 297.8, 311.7, 326.2, 341.2, 352.9, 365.1]
f_300K_k = [0.0354, 0.0324, 0.0216, 0.0162, 0.014, 0.0108, 0.00906, 0.0083, 0.00678, 0.00621, 0.0057, 0.00553, 0.00493, 0.00522, 0.00427, 0.00403, 0.00369, 0.00369, 0.00276, 0.00348, 0.00328, 0.00292, 0.00232, 0.0031, 0.00232, 0.0031, 0.002]
f_300Kg_wl = [91.8, 110, 131.8, 158, 181, 198.1, 216.9, 237.5, 254.2, 272, 284.6, 297.8, 315.2, 333.4, 349, 361]
f_300Kg_k = [0.0148, 0.0095, 0.0071, 0.0060, 0.00553, 0.00522, 0.00493, 0.00465, 0.00414, 0.00439, 0.00391, 0.00439, 0.00338, 0.00427, 0.00328, 0.00319]
f_200Ko_wl = [76.6, 77.4, 78.3, 79.2, 80.1, 81, 81.9, 82.9, 83.8, 84.8, 85.7, 86.7, 87.7, 89.7, 91.8, 93.9, 96, 98.2, 100.5, 102.8, 105.1, 107.5, 110, 112.5, 116.4, 119, 121.8, 126, 128.9, 131.8, 134.8, 137.9, 144.3, 147.6, 151, 154.4, 158, 163.5, 169.1, 174.9, 181, 185.2]
f_200Ko_k = [0.0398, 0.0387, 0.0354, 0.0316, 0.0281, 0.025, 0.0223, 0.0204, 0.0187, 0.01714, 0.0157, 0.014, 0.01248, 0.0111, 0.00988, 0.0088, 0.00783, 0.00678, 0.00621, 0.0057, 0.00537, 0.00493, 0.00493, 0.00452, 0.00553, 0.00522, 0.00507, 0.00479, 0.00493, 0.00391, 0.00369, 0.00348, 0.00328, 0.0038, 0.0031, 0.00292, 0.00276, 0.00348, 0.00206, 0.00292, 0.00276, 0.00268]
f_200K_wl = [76.6, 81.9, 87.7, 91.8, 96, 100.5, 105.1, 110, 115.1, 117.7, 120.4, 123.2, 128.9, 134.8, 144.3, 158, 173, 181, 189.4, 198.1, 207.3, 216.9, 221.9, 227, 237.5, 248, 260, 269, 275.1, 284.6, 291.1, 301.2, 311.7, 322.4, 333.4, 345.1, 356.9, 373.5, 390.8, 398]
f_200K_k = [0.0387, 0.021, 0.0132, 0.01047, 0.0083, 0.00698, 0.00586, 0.00522, 0.00493, 0.00439, 0.00369, 0.00439, 0.00414, 0.00391, 0.00348, 0.0031, 0.00276, 0.00246, 0.00232, 0.00219, 0.00219, 0.00195, 0.00164, 0.00173, 0.00159, 0.00154, 0.00138, 0.00116, 0.00164, 0.00138, 0.00097, 0.00146, 0.0013, 0.00164, 0.00116, 0.00154, 0.0011, 0.00138, 0.0013, 0.0011]
f_100Ko_wl = [74, 74.8, 75.7, 76.6, 77.4, 78.3, 79.2, 80.1, 81, 81.9, 82.9, 83.8, 84.8, 85.7, 86.7, 87.7, 88.7, 89.7, 90.7, 91.8, 92.8, 93.9, 96, 98.2, 100.5, 102.8, 105.1, 107.5, 110, 112.5, 107.5]
f_100Ko_k = [0.0398, 0.0387, 0.0354, 0.0316, 0.0265, 0.0223, 0.0187, 0.0157, 0.014, 0.01248, 0.0111, 0.00988, 0.0088, 0.00783, 0.0074, 0.00698, 0.00698, 0.00621, 0.00553, 0.00493, 0.00439, 0.00391, 0.00348, 0.0031, 0.00276, 0.00246, 0.00261, 0.00232, 0.00206, 0.00179, 0.00164]
f_100K_wl = [74, 76.6, 80.1, 83.8, 86.7, 88.7, 90.7, 91.8, 96, 100.5, 105.1, 110, 115.1, 120.4, 126, 128.9, 131.8, 134.8, 137.3, 139.5, 142.7, 146, 149.3, 152.7, 158, 161.6, 165.3, 169.1, 173, 177.7]
f_100K_k = [0.0387, 0.0281, 0.01766, 0.01248, 0.00783, 0.0074, 0.00698, 0.00586, 0.00391, 0.00292, 0.00232, 0.00184, 0.00164, 0.00154, 0.0013, 0.00122, 0.00138, 0.0011, 0.000727, 0.000916, 0.00097, 0.000817, 0.000865, 0.00077, 0.000817, 0.000727, 0.000647, 0.000611, 0.000545, 0.000647]
f_lowg_wl = [96, 105.1, 110, 115.1, 120.4, 126, 134.8, 141.1, 151, 158]
f_lowg_k = [0.0048, 0.0021, 0.0016, 0.0014, 0.00115, 0.0011, 0.00095, 0.00085, 0.00082, 0.00075]
f_10Ko_wl = [77.4, 78.3, 79.2, 80.1, 81, 81.9, 82.9, 83.8, 84.8, 85.7, 86.7, 87.7, 88.7, 89.7, 90.7, 91.8, 92.8, 93.9, 94.9, 96, 98.2, 99.3, 100.5, 103.9, 105.1, 106.3]
f_10Ko_k = [0.01766, 0.01667, 0.01484, 0.0132, 0.01175, 0.01047, 0.00933, 0.0083, 0.0074, 0.00621, 0.00553, 0.00493, 0.00439, 0.00391, 0.00348, 0.0031, 0.00261, 0.00246, 0.00206, 0.00195, 0.00173, 0.00164, 0.00146, 0.0011, 0.0011, 0.00103]
f_10K_wl = [76.6, 80.1, 83.8, 87.7, 91.8, 96, 100.5, 102.8, 105.1, 107.5, 110, 112.5, 115.1, 117.7, 119, 120.4, 123.2, 126, 128.9, 131.8, 134.8, 136.4, 137.9, 140.4, 142.7, 144.3, 146, 148.3, 150.3, 152.7]
f_10K_k = [0.021, 0.014, 0.0088, 0.00553, 0.00348, 0.00246, 0.00164, 0.0013, 0.0011, 0.00116, 0.00103, 0.000916, 0.00077, 0.000727, 0.000817, 0.000647, 0.000577, 0.00056, 0.000513, 0.000484, 0.000384, 0.000431, 0.000384, 0.000484, 0.000342, 0.000305, 0.000256, 0.000271, 0.000242, 0.000249]

top_yticks = [1e-5, 1e-4, 1e-3, 1e-2, 1e-1]
top_ylabels = [r"1$\times$10$^{-5}$", r"1$\times$10$^{-4}$", r"1$\times$10$^{-3}$", r"1$\times$10$^{-2}$", r"1$\times$10$^{-1}$"]
bot_yticks = [1e-4, 1e-3, 1e-2, 1e-1]
bot_ylabels = [r"1$\times$10$^{-4}$", r"1$\times$10$^{-3}$", r"1$\times$10$^{-2}$", r"1$\times$10$^{-1}$"]

BLUE = "#0000ff"
BROWN = "#bc8f8f"
CYAN = "#00ffff"
GREEN = "#00ff00"
ORANGE = "#ffa500"
RED = "#ff0000"
BLACK = "#000000"
GREY = "#d9d9d9"

sns.set_theme(style="ticks")
plt.rcParams["font.family"] = ["Liberation Serif", "DejaVu Serif"]
plt.rcParams["mathtext.fontset"] = "custom"
plt.rcParams["mathtext.rm"] = "Liberation Serif"
plt.rcParams["mathtext.it"] = "Liberation Serif:italic"
plt.rcParams["axes.edgecolor"] = "black"
plt.rcParams["axes.linewidth"] = 1.1
plt.rcParams["xtick.color"] = "black"
plt.rcParams["ytick.color"] = "black"

DASH = (0, (7, 2.5))
DASHDOT = (0, (7, 2.5, 2, 2.5))


def draw_line(ax, wl, k, color, style="-", width=1.1, label=None, z=2):
    df = pd.DataFrame({"wl": wl, "k": k})
    sns.lineplot(data=df, x="wl", y="k", ax=ax, color=color, linestyle=style,
                 linewidth=width, label=label, estimator=None, sort=False, zorder=z)


def draw_circles(ax, wl, k, color):
    ax.plot(wl, k, linestyle="none", marker="o", ms=5, mfc="none", mec=color,
            mew=0.9, zorder=4)


def style_axes(ax, xmin, ymin, yticks, ylabels, show_y, tag):
    ax.set_xscale("log")
    ax.set_yscale("log")
    ax.set_xlim(xmin, 500)
    ax.set_ylim(ymin, 0.1)
    ax.xaxis.set_major_locator(FixedLocator([100]))
    ax.xaxis.set_major_formatter(FixedFormatter(["100"]))
    ax.xaxis.set_minor_locator(LogLocator(base=10, subs=np.arange(2, 10)))
    ax.xaxis.set_minor_formatter(NullFormatter())
    ax.yaxis.set_major_locator(FixedLocator(yticks))
    if show_y:
        ax.yaxis.set_major_formatter(FixedFormatter(ylabels))
    else:
        ax.yaxis.set_major_formatter(NullFormatter())
    ax.yaxis.set_minor_locator(LogLocator(base=10, subs=np.arange(2, 10)))
    ax.yaxis.set_minor_formatter(NullFormatter())
    ax.tick_params(which="both", direction="in", top=True, right=True,
                   labelsize=12, pad=5, width=1.0)
    ax.tick_params(which="major", length=8)
    ax.tick_params(which="minor", length=4)
    ax.set_xlabel("")
    ax.set_ylabel("")
    ax.text(0.9, 0.925 if ymin < 5e-5 else 0.915, tag, transform=ax.transAxes,
            ha="center", va="center", fontsize=14)
    leg = ax.legend(loc="lower left", bbox_to_anchor=(0.027, 0.036), frameon=True,
                    fancybox=False, edgecolor="black", framealpha=1, fontsize=11.5,
                    handlelength=1.4, handletextpad=0.7, labelspacing=-0.12,
                    borderpad=0.35, borderaxespad=0.0)
    leg.get_frame().set_linewidth(1.0)


fig = plt.figure(figsize=(12, 9.31), dpi=100)
lefts = [0.065, 0.375, 0.684]
w = 0.3094
top_axes = [fig.add_axes([l, 0.5564, w, 0.4275]) for l in lefts]
bot_axes = [fig.add_axes([l, 0.0505, w, 0.4264]) for l in lefts]
for ax in top_axes + bot_axes:
    ax.set_xscale("log")
    ax.set_yscale("log")

# ---- (a) ----
ax = top_axes[0]
draw_line(ax, a_50Kg_wl, a_50Kg_k, GREY, width=1.5, z=1)
draw_line(ax, a_300K_wl, a_300Kg_k, GREY, width=1.8, z=1)
draw_line(ax, a_model50_wl, a_model50_k, BROWN, style=DASH)
draw_line(ax, a_model300_wl, a_model300_k, BLACK, style=DASH)
draw_line(ax, a_10K_wl, a_10K_k, BLUE, label="10 K")
draw_line(ax, a_50K_wl, a_50K_k, BROWN, label="50 K")
draw_line(ax, a_75K_wl, a_75K_k, CYAN, label="75 K")
draw_line(ax, a_100K_wl, a_100K_k, GREEN, label="100 K")
draw_line(ax, a_150K_wl, a_150K_k, ORANGE, label="150 K")
draw_line(ax, a_200K_wl, a_200K_k, RED, label="200 K")
draw_line(ax, a_300K_wl, a_300K_k, BLACK, label="300 K")
style_axes(ax, 20, 1e-5, top_yticks, top_ylabels, True, "(a)")

# ---- (b) ----
ax = top_axes[1]
draw_line(ax, b_50Kg_wl, b_50Kg_k, GREY, width=1.5, z=1)
draw_line(ax, b_300Kg_wl, b_300Kg_k, GREY, width=2.0, z=1)
draw_line(ax, b_model50_wl, b_model50_k, BROWN, style=DASH)
draw_line(ax, b_model300_wl, b_model300_k, BLACK, style=DASH)
draw_line(ax, b_300Kd_wl, b_300Kd_k, "#777777", style=(0, (1, 2)), width=0.9)
draw_line(ax, b_10K_wl, b_10K_k, BLUE, label="10 K")
draw_line(ax, b_50K_wl, b_50K_k, BROWN, label="50 K")
draw_line(ax, b_100K_wl, b_100K_k, GREEN, label="100 K")
draw_line(ax, b_150K_wl, b_150K_k, ORANGE, label="150 K")
draw_line(ax, b_200K_wl, b_200K_k, RED, label="200 K")
draw_line(ax, b_300K_wl, b_300K_k, BLACK, label="300 K")
style_axes(ax, 20, 1e-5, top_yticks, top_ylabels, False, "(b)")

# ---- (c) ----
ax = top_axes[2]
draw_line(ax, c_50Kg_wl, c_50Kg_k, GREY, width=1.5, z=1)
draw_line(ax, c_300K_wl, c_300Kg_k, GREY, width=1.8, z=1)
draw_line(ax, c_model50_wl, c_model50_k, BROWN, style=DASH)
draw_line(ax, c_model300_wl, c_model300_k, BLACK, style=DASH)
draw_line(ax, c_10K_wl, c_10K_k, BLUE, label="10 K")
draw_line(ax, c_50K_wl, c_50K_k, BROWN, label="50 K")
draw_line(ax, c_75K_wl, c_75K_k, CYAN, label="75 K")
draw_line(ax, c_100K_wl, c_100K_k, GREEN, label="100 K")
draw_line(ax, c_150K_wl, c_150K_k, ORANGE, label="150 K")
draw_line(ax, c_200K_wl, c_200K_k, RED, label="200 K")
draw_line(ax, c_300K_wl, c_300K_k, BLACK, label="300 K")
style_axes(ax, 20, 1e-5, top_yticks, top_ylabels, False, "(c)")

# ---- (d) ----
ax = bot_axes[0]
draw_line(ax, d_300Kg_wl, d_300Kg_k, GREY, width=1.5, z=1)
draw_line(ax, d_lowg_wl, d_lowg_k, GREY, width=1.5, z=1)
draw_line(ax, d_model10_wl, d_model10_k, BLUE, style=DASHDOT)
draw_line(ax, d_model300_wl, d_model300_k, BLACK, style=DASH)
draw_line(ax, d_10K_wl, d_10K_k, BLUE, label="10 K")
draw_line(ax, d_100K_wl, d_100K_k, GREEN, label="100 K")
draw_line(ax, d_200K_wl, d_200K_k, RED, label="200 K")
draw_line(ax, d_300K_wl, d_300K_k, BLACK, label="300 K")
draw_circles(ax, d_10Ko_wl, d_10Ko_k, BLUE)
draw_circles(ax, d_100Ko_wl, d_100Ko_k, GREEN)
draw_circles(ax, d_200Ko_wl, d_200Ko_k, RED)
draw_circles(ax, d_300Ko_wl, d_300Ko_k, BLACK)
style_axes(ax, 40, 1e-4, bot_yticks, bot_ylabels, True, "(d)")

# ---- (e) ----
ax = bot_axes[1]
draw_line(ax, e_300Kg_wl, e_300Kg_k, GREY, width=1.5, z=1)
draw_line(ax, e_lowg_wl, e_lowg_k, GREY, width=1.5, z=1)
draw_line(ax, e_model10_wl, e_model10_k, BLUE, style=DASHDOT)
draw_line(ax, e_model300_wl, e_model300_k, BLACK, style=DASH)
draw_line(ax, e_10K_wl, e_10K_k, BLUE, label="10 K")
draw_line(ax, e_100K_wl, e_100K_k, GREEN, label="100 K")
draw_line(ax, e_200K_wl, e_200K_k, RED, label="200 K")
draw_line(ax, e_300K_wl, e_300K_k, BLACK, label="300 K")
draw_circles(ax, e_10Ko_wl, e_10Ko_k, BLUE)
draw_circles(ax, e_100Ko_wl, e_100Ko_k, GREEN)
draw_circles(ax, e_200Ko_wl, e_200Ko_k, RED)
draw_circles(ax, e_300Ko_wl, e_300Ko_k, BLACK)
style_axes(ax, 40, 1e-4, bot_yticks, bot_ylabels, False, "(e)")

# ---- (f) ----
ax = bot_axes[2]
draw_line(ax, f_300Kg_wl, f_300Kg_k, GREY, width=1.5, z=1)
draw_line(ax, f_lowg_wl, f_lowg_k, GREY, width=1.5, z=1)
draw_line(ax, f_model10_wl, f_model10_k, BLUE, style=DASHDOT)
draw_line(ax, f_model300_wl, f_model300_k, BLACK, style=DASH)
draw_line(ax, f_10K_wl, f_10K_k, BLUE, label="10 K")
draw_line(ax, f_100K_wl, f_100K_k, GREEN, label="100 K")
draw_line(ax, f_200K_wl, f_200K_k, RED, label="200 K")
draw_line(ax, f_300K_wl, f_300K_k, BLACK, label="300 K")
draw_circles(ax, f_10Ko_wl, f_10Ko_k, BLUE)
draw_circles(ax, f_100Ko_wl, f_100Ko_k, GREEN)
draw_circles(ax, f_200Ko_wl, f_200Ko_k, RED)
draw_circles(ax, f_300Ko_wl, f_300Ko_k, BLACK)
style_axes(ax, 40, 1e-4, bot_yticks, bot_ylabels, False, "(f)")

ylab = "Imaginary part of refractive index"
fig.text(0.014, 0.770, ylab, rotation=90, ha="center", va="center", fontsize=14)
fig.text(0.014, 0.2637, ylab, rotation=90, ha="center", va="center", fontsize=14)
fig.text(0.531, 0.5215, "Wavelength (\u03bcm)", ha="center", va="center", fontsize=14)
fig.text(0.531, 0.0155, "Wavelength (\u03bcm)", ha="center", va="center", fontsize=14)

fig.savefig("out.png", dpi=100)
